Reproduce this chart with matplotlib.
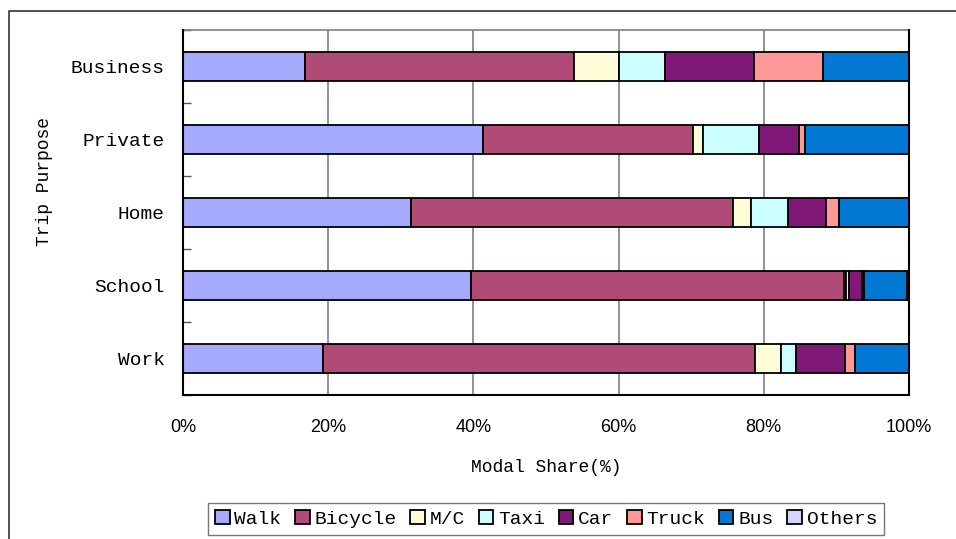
import numpy as np
import matplotlib.pyplot as plt
from matplotlib.lines import Line2D

# trip purposes, bottom to top
purposes = ['Work', 'School', 'Home', 'Private', 'Business']
modes = ['Walk', 'Bicycle', 'M/C', 'Taxi', 'Car', 'Truck', 'Bus', 'Others']

# modal share (%) for each mode, ordered like purposes
walk = [19.3, 39.7, 31.4, 41.3, 16.8]
bicycle = [59.5, 51.3, 44.4, 29.0, 37.0]
mc = [3.6, 0.3, 2.5, 1.3, 6.3]
taxi = [2.0, 0.5, 5.0, 7.8, 6.3]
car = [6.8, 1.7, 5.2, 5.5, 12.2]
truck = [1.4, 0.3, 1.9, 0.8, 9.6]
bus = [7.4, 5.9, 9.6, 14.3, 11.8]
others = [0.0, 0.3, 0.0, 0.0, 0.0]

colors = ['#a6aafc', '#b04a76', '#fffdd8', '#ccfeff', '#801878',
          '#ff9896', '#0078d4', '#d4d4fc']

mono = 'Liberation Mono'

fig = plt.figure(figsize=(9.56, 5.39), dpi=100)
ax = fig.add_axes([183/956, 1-395/539, 726/956, 365/539])

series = [walk, bicycle, mc, taxi, car, truck, bus, others]
y = np.arange(len(purposes))
left = np.zeros(len(purposes))
for name, vals, c in zip(modes, series, colors):
    vals = np.array(vals)
    ax.barh(y, vals, left=left, height=0.39, color=c, edgecolor='black',
            linewidth=1.3, label=name, zorder=3)
    left += vals

ax.set_xlim(0, 100)
ax.set_ylim(-0.5, 4.5)
ax.set_xticks(np.arange(0, 101, 20))
ax.set_xticklabels([f'{v}%' for v in range(0, 101, 20)],
                   family='Liberation Sans', fontsize=13)
ax.tick_params(axis='x', length=0, pad=17)
ax.set_yticks(y)
ax.set_yticklabels(purposes, family=mono, fontsize=14)
ax.set_yticks(np.arange(-0.5, 4.6, 1.0), minor=True)
ax.tick_params(axis='y', which='major', length=0, pad=13)
ax.tick_params(axis='y', which='minor', direction='in', length=6, width=1, color='#555555')

ax.xaxis.grid(True, color='#808080', linewidth=1.2, zorder=0)
for s in ['left', 'bottom', 'right']:
    ax.spines[s].set_linewidth(1.5)
    ax.spines[s].set_zorder(4)
ax.spines['top'].set_color('#808080')
ax.spines['top'].set_linewidth(1.2)

ax.set_xlabel('Modal Share(%)', family=mono, fontsize=13)
ax.xaxis.set_label_coords(0.5, (395-467)/365)
ax.xaxis.label.set_va('center')
ax.set_ylabel('Trip Purpose', family=mono, fontsize=13)
ax.yaxis.set_label_coords((45-183)/726, (395-181)/365)
ax.yaxis.label.set_va('center')

leg = fig.legend(loc='upper center', bbox_to_anchor=(546/956, 1-503/539),
                 ncol=8, prop={'family': mono, 'size': 14}, frameon=True,
                 fancybox=False, edgecolor='#555555', handlelength=0.75,
                 handleheight=0.75, handletextpad=0.25, columnspacing=0.7,
                 borderpad=0.35, borderaxespad=0)
leg.get_frame().set_linewidth(1.0)

# outer chart frame (left and top edges)
fig.add_artist(Line2D([8.5/956, 8.5/956, 1.0], [0.0, 1-10.5/539, 1-10.5/539],
                      color='#333333', linewidth=1.2))

fig.savefig('out.png', dpi=100)
